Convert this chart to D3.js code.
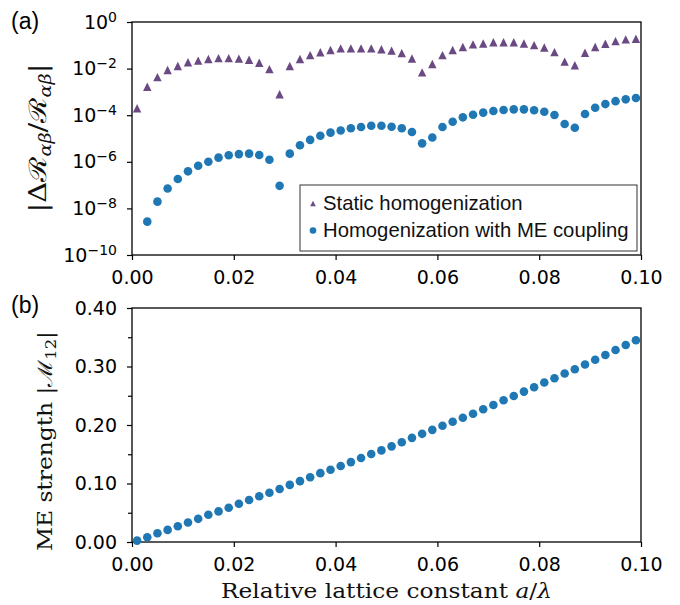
<!DOCTYPE html>
<html>
<head>
<meta charset="utf-8">
<script src="https://cdn.jsdelivr.net/npm/d3@7"></script>
<style>
  body { margin: 0; background: #fff; }
</style>
</head>
<body>
<svg id="fig" width="680" height="605"></svg>
<script>
// relative lattice constant a/lambda
var ratio = [0.001, 0.003, 0.005, 0.007, 0.009, 0.011, 0.013, 0.015, 0.017, 0.019,
             0.021, 0.023, 0.025, 0.027, 0.029, 0.031, 0.033, 0.035, 0.037, 0.039,
             0.041, 0.043, 0.045, 0.047, 0.049, 0.051, 0.053, 0.055, 0.057, 0.059,
             0.061, 0.063, 0.065, 0.067, 0.069, 0.071, 0.073, 0.075, 0.077, 0.079,
             0.081, 0.083, 0.085, 0.087, 0.089, 0.091, 0.093, 0.095, 0.097, 0.099];

// (a) static homogenization error
var staticErr = [2.0e-4, 1.66e-3, 4.3e-3, 8.7e-3, 1.29e-2, 1.86e-2, 2.19e-2, 2.57e-2, 2.82e-2, 2.82e-2,
                 2.69e-2, 2.40e-2, 1.78e-2, 9.5e-3, 7.9e-4, 1.29e-2, 2.57e-2, 3.8e-2, 5.0e-2, 6.3e-2,
                 7.4e-2, 7.4e-2, 7.4e-2, 7.4e-2, 6.8e-2, 5.9e-2, 4.6e-2, 2.7e-2, 6.9e-3, 1.58e-2,
                 3.8e-2, 6.3e-2, 8.5e-2, 0.110, 0.120, 0.135, 0.135, 0.135, 0.120, 0.102,
                 0.081, 0.051, 0.020, 0.014, 0.048, 0.085, 0.117, 0.151, 0.180, 0.190];

// (a) homogenization with ME coupling (first point not shown)
var meErr = [null, 2.7e-9, 1.95e-8, 7.1e-8, 1.82e-7, 3.9e-7, 6.8e-7, 1.0e-6, 1.51e-6, 1.9e-6,
             2.14e-6, 2.24e-6, 1.95e-6, 1.23e-6, 9.3e-8, 2.24e-6, 5.1e-6, 8.7e-6, 1.32e-5, 1.78e-5,
             2.19e-5, 2.75e-5, 3.1e-5, 3.5e-5, 3.5e-5, 3.2e-5, 2.75e-5, 1.9e-5, 6.2e-6, 1.1e-5,
             3.1e-5, 5.2e-5, 8.1e-5, 1.05e-4, 1.29e-4, 1.51e-4, 1.66e-4, 1.78e-4, 1.78e-4, 1.62e-4,
             1.41e-4, 1.02e-4, 4.2e-5, 2.9e-5, 1.12e-4, 2.1e-4, 3.0e-4, 4.0e-4, 4.8e-4, 5.5e-4];

// (b) ME strength |M12|
var meStrength = [0.0024, 0.0081, 0.0150, 0.0207, 0.0270, 0.0334, 0.0396, 0.0465, 0.0523, 0.0585,
                  0.0654, 0.0718, 0.0781, 0.0843, 0.0907, 0.0976, 0.1040, 0.1108, 0.1177, 0.1234,
                  0.1298, 0.1366, 0.1435, 0.1504, 0.1566, 0.1635, 0.1704, 0.1780, 0.1849, 0.1917,
                  0.1986, 0.2055, 0.2124, 0.2193, 0.2270, 0.2341, 0.2422, 0.2496, 0.2571, 0.2645,
                  0.2726, 0.2800, 0.2880, 0.2954, 0.3035, 0.3115, 0.3196, 0.3282, 0.3368, 0.3449];

var xTicks = [0, 0.02, 0.04, 0.06, 0.08, 0.10];
var logTicks = [1e-10, 1e-8, 1e-6, 1e-4, 1e-2, 1];
var linTicks = [0, 0.1, 0.2, 0.3, 0.4];
var linMinor = [0.05, 0.15, 0.25, 0.35];
var legendLabels = ["Static homogenization", "Homogenization with ME coupling"];

var purple = "#6b4a83", blue = "#1f77b4";

var svg = d3.select("#fig");
var left = 132, right = 641;
var topA = 22, botA = 255, topB = 308, botB = 542;

var x = d3.scaleLinear().domain([0, 0.1]).range([left, right]);
var yA = d3.scaleLog().domain([1e-10, 1]).range([botA, topA]);
var yB = d3.scaleLinear().domain([0, 0.4]).range([botB, topB]);

function styleAxis(g) {
  g.select(".domain").remove();
  g.selectAll("line").attr("stroke", "#000").attr("stroke-width", 1.2);
  g.selectAll("text")
    .attr("font-family", "DejaVu Sans, sans-serif")
    .attr("font-size", 19)
    .attr("fill", "#000");
}

// ---- panel (a) ----
svg.append("g").attr("transform", "translate(0," + botA + ")")
  .call(d3.axisBottom(x).tickValues(xTicks).tickSize(5).tickPadding(11).tickFormat(d3.format(".2f")))
  .call(styleAxis);

var ga = svg.append("g").attr("transform", "translate(" + left + ",0)")
  .call(d3.axisLeft(yA).tickValues(logTicks).tickSize(5).tickPadding(10).tickFormat(function() { return ""; }))
  .call(styleAxis);

ga.selectAll(".tick text").each(function(d) {
  var t = d3.select(this);
  t.append("tspan").text("10");
  t.append("tspan").attr("dy", "-0.5em").attr("font-size", 14)
    .text(String(Math.round(Math.log10(d))).replace("-", "\u2212"));
});

svg.append("rect").attr("x", left).attr("y", topA)
  .attr("width", right - left).attr("height", botA - topA)
  .attr("fill", "none").attr("stroke", "#000").attr("stroke-width", 1.3);

function tri(s) {
  return "M0," + (-s) + "L" + s + "," + s + "L" + (-s) + "," + s + "Z";
}

svg.append("g").selectAll("path")
  .data(ratio.map(function(r, i) { return [r, staticErr[i]]; }))
  .enter().append("path")
  .attr("d", tri(4.2))
  .attr("fill", purple)
  .attr("transform", function(d) { return "translate(" + x(d[0]) + "," + yA(d[1]) + ")"; });

svg.append("g").selectAll("circle")
  .data(ratio.map(function(r, i) { return [r, meErr[i]]; }).filter(function(d) { return d[1] != null; }))
  .enter().append("circle")
  .attr("cx", function(d) { return x(d[0]); })
  .attr("cy", function(d) { return yA(d[1]); })
  .attr("r", 4.3)
  .attr("fill", blue);

// legend
var lg = svg.append("g").attr("transform", "translate(300,185)");
lg.append("rect").attr("width", 337).attr("height", 66)
  .attr("fill", "#fff").attr("stroke", "#333").attr("stroke-width", 1);
lg.append("path").attr("d", tri(2.8)).attr("fill", purple).attr("transform", "translate(13,18.5)");
lg.append("circle").attr("cx", 13).attr("cy", 45.5).attr("r", 3.3).attr("fill", blue);
lg.selectAll("text.lab").data(legendLabels).enter().append("text")
  .attr("class", "lab")
  .attr("x", 23)
  .attr("y", function(d, i) { return 24.5 + i * 27; })
  .attr("font-family", "Liberation Sans, Arial, sans-serif")
  .attr("font-size", 20.3)
  .attr("fill", "#111")
  .text(function(d) { return d; });

// ---- panel (b) ----
svg.append("g").attr("transform", "translate(0," + botB + ")")
  .call(d3.axisBottom(x).tickValues(xTicks).tickSize(5).tickPadding(11).tickFormat(d3.format(".2f")))
  .call(styleAxis);

svg.append("g").attr("transform", "translate(" + left + ",0)")
  .call(d3.axisLeft(yB).tickValues(linTicks).tickSize(5).tickPadding(10).tickFormat(d3.format(".2f")))
  .call(styleAxis);

svg.append("g").attr("transform", "translate(" + left + ",0)")
  .call(d3.axisLeft(yB).tickValues(linMinor).tickSize(4).tickFormat(function() { return ""; }))
  .call(styleAxis);

svg.append("rect").attr("x", left).attr("y", topB)
  .attr("width", right - left).attr("height", botB - topB)
  .attr("fill", "none").attr("stroke", "#000").attr("stroke-width", 1.3);

svg.append("g").selectAll("circle")
  .data(ratio.map(function(r, i) { return [r, meStrength[i]]; }))
  .enter().append("circle")
  .attr("cx", function(d) { return x(d[0]); })
  .attr("cy", function(d) { return yB(d[1]); })
  .attr("r", 4.3)
  .attr("fill", blue);

// ---- labels ----
svg.append("text").attr("x", 11).attr("y", 29)
  .attr("font-family", "Liberation Sans, Arial, sans-serif").attr("font-size", 23)
  .text("(a)");
svg.append("text").attr("x", 11).attr("y", 313)
  .attr("font-family", "Liberation Sans, Arial, sans-serif").attr("font-size", 23)
  .text("(b)");

var serif = "DejaVu Serif, Liberation Serif, serif";

var ya = svg.append("text")
  .attr("transform", "translate(46,138) rotate(-90)")
  .attr("text-anchor", "middle")
  .attr("font-family", serif).attr("font-size", 24).attr("fill", "#111")
  .attr("textLength", 149).attr("lengthAdjust", "spacingAndGlyphs");
ya.append("tspan").text("|\u0394\u211B");
ya.append("tspan").attr("dy", 5).attr("font-size", 16).attr("font-style", "italic").text("\u03B1\u03B2");
ya.append("tspan").attr("dy", -5).text("/\u211B");
ya.append("tspan").attr("dy", 5).attr("font-size", 16).attr("font-style", "italic").text("\u03B1\u03B2");
ya.append("tspan").attr("dy", -5).text("|");

var yb = svg.append("text")
  .attr("transform", "translate(52,441) rotate(-90)")
  .attr("text-anchor", "middle")
  .attr("font-family", serif).attr("font-size", 20).attr("fill", "#111")
  .attr("textLength", 220).attr("lengthAdjust", "spacingAndGlyphs");
yb.append("tspan").text("ME strength |\u2133");
yb.append("tspan").attr("dy", 4).attr("font-size", 14).text("12");
yb.append("tspan").attr("dy", -4).text("|");

var xl = svg.append("text")
  .attr("x", (left + right) / 2).attr("y", 598)
  .attr("text-anchor", "middle")
  .attr("font-family", serif).attr("font-size", 20).attr("fill", "#111")
  .attr("textLength", 331).attr("lengthAdjust", "spacingAndGlyphs");
xl.append("tspan").text("Relative lattice constant ");
xl.append("tspan").attr("font-style", "italic").text("a");
xl.append("tspan").text("/");
xl.append("tspan").attr("font-style", "italic").text("\u03BB");
</script>
</body>
</html>
